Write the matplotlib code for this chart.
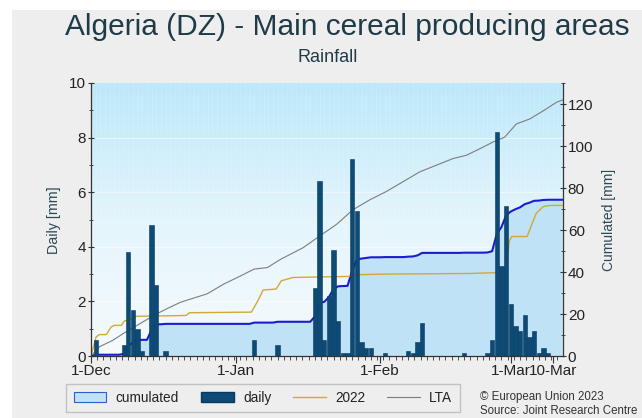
import numpy as np
import matplotlib.pyplot as plt
from matplotlib.patches import Patch, Rectangle
from matplotlib.lines import Line2D
from matplotlib.ticker import MultipleLocator
from matplotlib.colors import LinearSegmentedColormap

plt.rcParams['font.family'] = ['Liberation Sans', 'DejaVu Sans']

# daily rainfall [mm], one value per day from 1-Dec
dec_daily = [0, 0.6, 0, 0, 0, 0, 0, 0.4, 3.8, 1.7, 1.0, 0.2, 0, 4.8, 2.6, 0,
             0.2, 0, 0, 0, 0, 0, 0, 0, 0, 0, 0, 0, 0, 0, 0]
jan_daily = [0, 0, 0, 0, 0.6, 0, 0, 0, 0, 0.4, 0, 0, 0, 0, 0, 0,
             0, 2.5, 6.4, 0.6, 2.2, 3.9, 1.3, 0.1, 0.1, 7.2, 5.3, 0.5, 0.3, 0.3, 0]
feb_daily = [0, 0.1, 0, 0, 0, 0, 0.2, 0.1, 0.5, 1.2, 0, 0, 0, 0,
             0, 0, 0, 0, 0.1, 0, 0, 0, 0, 0.1, 0.6, 8.2, 3.3, 5.5]
mar_daily = [1.9, 1.1, 0.9, 1.5, 0.7, 0.9, 0.1, 0.3, 0.1, 0, 0, 0]

# cumulated curves [mm]: day index (0 = 1-Dec) and value
y2022_days = [0, 1.1, 1.8, 3.3, 4.3, 5.0, 6.5, 7.2, 9.0, 9.7, 20.4, 21.1, 34.4,
              35.8, 36.9, 39.7, 40.8, 43.3, 55.5, 56.9, 63, 81.2, 88.4, 89.0,
              89.7, 90.2, 93.5, 94.5, 95.5, 97.0, 98.4, 101.2]
y2022_vals = [0, 9.1, 10.2, 10.2, 13.8, 14.6, 14.6, 16.7, 17.8, 18.9, 19.3, 20.6,
              20.9, 26.4, 31.4, 31.9, 35.8, 37.4, 37.9, 38.7, 39.0, 39.3, 39.8,
              42.0, 54.7, 56.9, 56.9, 62.6, 68.1, 71.2, 71.7, 71.7]

lta_days = [0, 1.8, 4.7, 6.9, 10.5, 14.1, 17.0, 19.2, 24.9, 28.5, 31.4, 35.0,
            37.8, 40.7, 45.5, 49.0, 52.6, 56.2, 59.8, 63.3, 66.9, 70.5, 74.1,
            77.6, 80.5, 84.1, 86.2, 88.7, 91.2, 94.1, 97.0, 99.8, 101.2]
lta_vals = [0, 4.4, 7.5, 10.7, 15.4, 20.1, 23.3, 25.6, 29.6, 34.3, 37.4, 41.4,
            42.1, 46.1, 51.6, 57.1, 62.6, 69.7, 74.4, 78.3, 83.0, 87.7, 90.9,
            94.0, 95.6, 99.5, 101.9, 104.2, 110.5, 112.9, 116.8, 120.8, 122.0]

tick_days = [0, 31, 62, 90, 99]
tick_labels = ['1-Dec', '1-Jan', '1-Feb', '1-Mar', '10-Mar']

daily = np.array(dec_daily + jan_daily + feb_daily + mar_daily)
days = np.arange(len(daily))
cumulated = np.cumsum(daily)

text_col = '#1e3b47'
fig = plt.figure(figsize=(6.42, 4.18), dpi=100, facecolor='white')
fig.patches.append(Rectangle((12 / 642, 0), 1, 1 - 10 / 418, transform=fig.transFigure,
                             facecolor='#eeeeee', edgecolor='none', zorder=-10))

ax = fig.add_axes([91 / 642, 62 / 418, 472 / 642, 273 / 418])
ax2 = ax.twinx()
ax.set_zorder(ax2.get_zorder() + 1)
ax.patch.set_visible(False)

# background gradient of the plot area
grad = np.linspace(0, 1, 256).reshape(-1, 1)
bg_cmap = LinearSegmentedColormap.from_list('bg', ['#f5fafd', '#e4f5fc', '#bce8fa'])
ax2.imshow(grad, cmap=bg_cmap, aspect='auto', extent=[0, 1, 0, 1], origin='lower',
           transform=ax2.transAxes, zorder=0)
for d in days:
    ax2.axvline(d, color='white', lw=0.4, alpha=0.2, zorder=0.5)
for v in [2, 4, 6, 8]:
    ax2.axhline(v * 13, color='white', lw=0.8, alpha=0.5, zorder=0.5)

# cumulated series on the right axis
ax2.fill_between(days, cumulated, 0, color='#bfe2f7', lw=0, zorder=1)
ax2.plot(days, cumulated, color='#1c1ccf', lw=1.5, zorder=3)
ax2.plot(y2022_days, y2022_vals, color='#d2a935', lw=1.0, zorder=3)
ax2.plot(lta_days, lta_vals, color='#7d7d7d', lw=0.8, zorder=3)

# daily bars on the left axis
ax.bar(days, daily, width=0.92, color='#0d4a76', edgecolor='#083a5e', lw=0.4)

ax.set_xlim(0, 101.2)
ax.set_ylim(0, 10)
ax2.set_ylim(0, 130)
ax.set_xticks(tick_days)
ax.set_xticklabels(tick_labels)
ax.xaxis.set_minor_locator(MultipleLocator(4 / 3))
ax.yaxis.set_major_locator(MultipleLocator(2))
ax.yaxis.set_minor_locator(MultipleLocator(1))
ax2.yaxis.set_major_locator(MultipleLocator(20))
ax2.yaxis.set_minor_locator(MultipleLocator(10))

for a in (ax, ax2):
    a.spines['top'].set_visible(False)
    for s in a.spines.values():
        s.set_color('#333333')
        s.set_linewidth(0.9)
    a.tick_params(which='major', length=5, width=0.8, color='#333333',
                  labelsize=11, labelcolor='#222222', pad=1)
    a.tick_params(which='minor', length=3, width=0.6, color='#333333')
ax.tick_params(axis='y', which='both', direction='inout')
ax2.tick_params(axis='y', which='both', direction='inout')
ax.spines['right'].set_visible(False)
ax2.spines['left'].set_visible(False)
ax2.spines['bottom'].set_visible(False)

fig.text(54 / 642, 1 - 220 / 418, 'Daily [mm]', rotation=90, ha='center', va='center',
         fontsize=10.3, color='#2a4a58')
fig.text(609 / 642, 1 - 220 / 418, 'Cumulated [mm]', rotation=90, ha='center', va='center',
         fontsize=10, color='#2a4a58')

fig.text(347 / 642, 1 - 27 / 418, 'Algeria (DZ) - Main cereal producing areas',
         ha='center', va='center', fontsize=21.5, color=text_col)
fig.text(328 / 642, 1 - 58 / 418, 'Rainfall', ha='center', va='center',
         fontsize=13, color=text_col)

handles = [Patch(facecolor='#bfe2f7', edgecolor='#2a5fd0', lw=0.8),
           Patch(facecolor='#0d4a76', edgecolor='#083a5e'),
           Line2D([], [], color='#d2a935', lw=1.0),
           Line2D([], [], color='#7d7d7d', lw=0.8)]
leg = fig.legend(handles, ['cumulated', 'daily', '2022', 'LTA'], ncol=4,
                 loc='center', bbox_to_anchor=(263 / 642, 1 - 398 / 418),
                 fontsize=9.8, frameon=True, fancybox=False, handlelength=2.4,
                 handleheight=0.7, handletextpad=0.7, columnspacing=1.6,
                 borderpad=0.55)
leg.get_frame().set_facecolor('#eeeeee')
leg.get_frame().set_edgecolor('#b8b8b8')
for t in leg.get_texts():
    t.set_color('#222222')

fig.text(480 / 642, 1 - 397 / 418, '© European Union 2023', ha='left', va='center',
         fontsize=8.3, color='#333333')
fig.text(480 / 642, 1 - 411 / 418, 'Source: Joint Research Centre', ha='left', va='center',
         fontsize=8.3, color='#333333')

fig.savefig('out.png', dpi=100, facecolor=fig.get_facecolor())
